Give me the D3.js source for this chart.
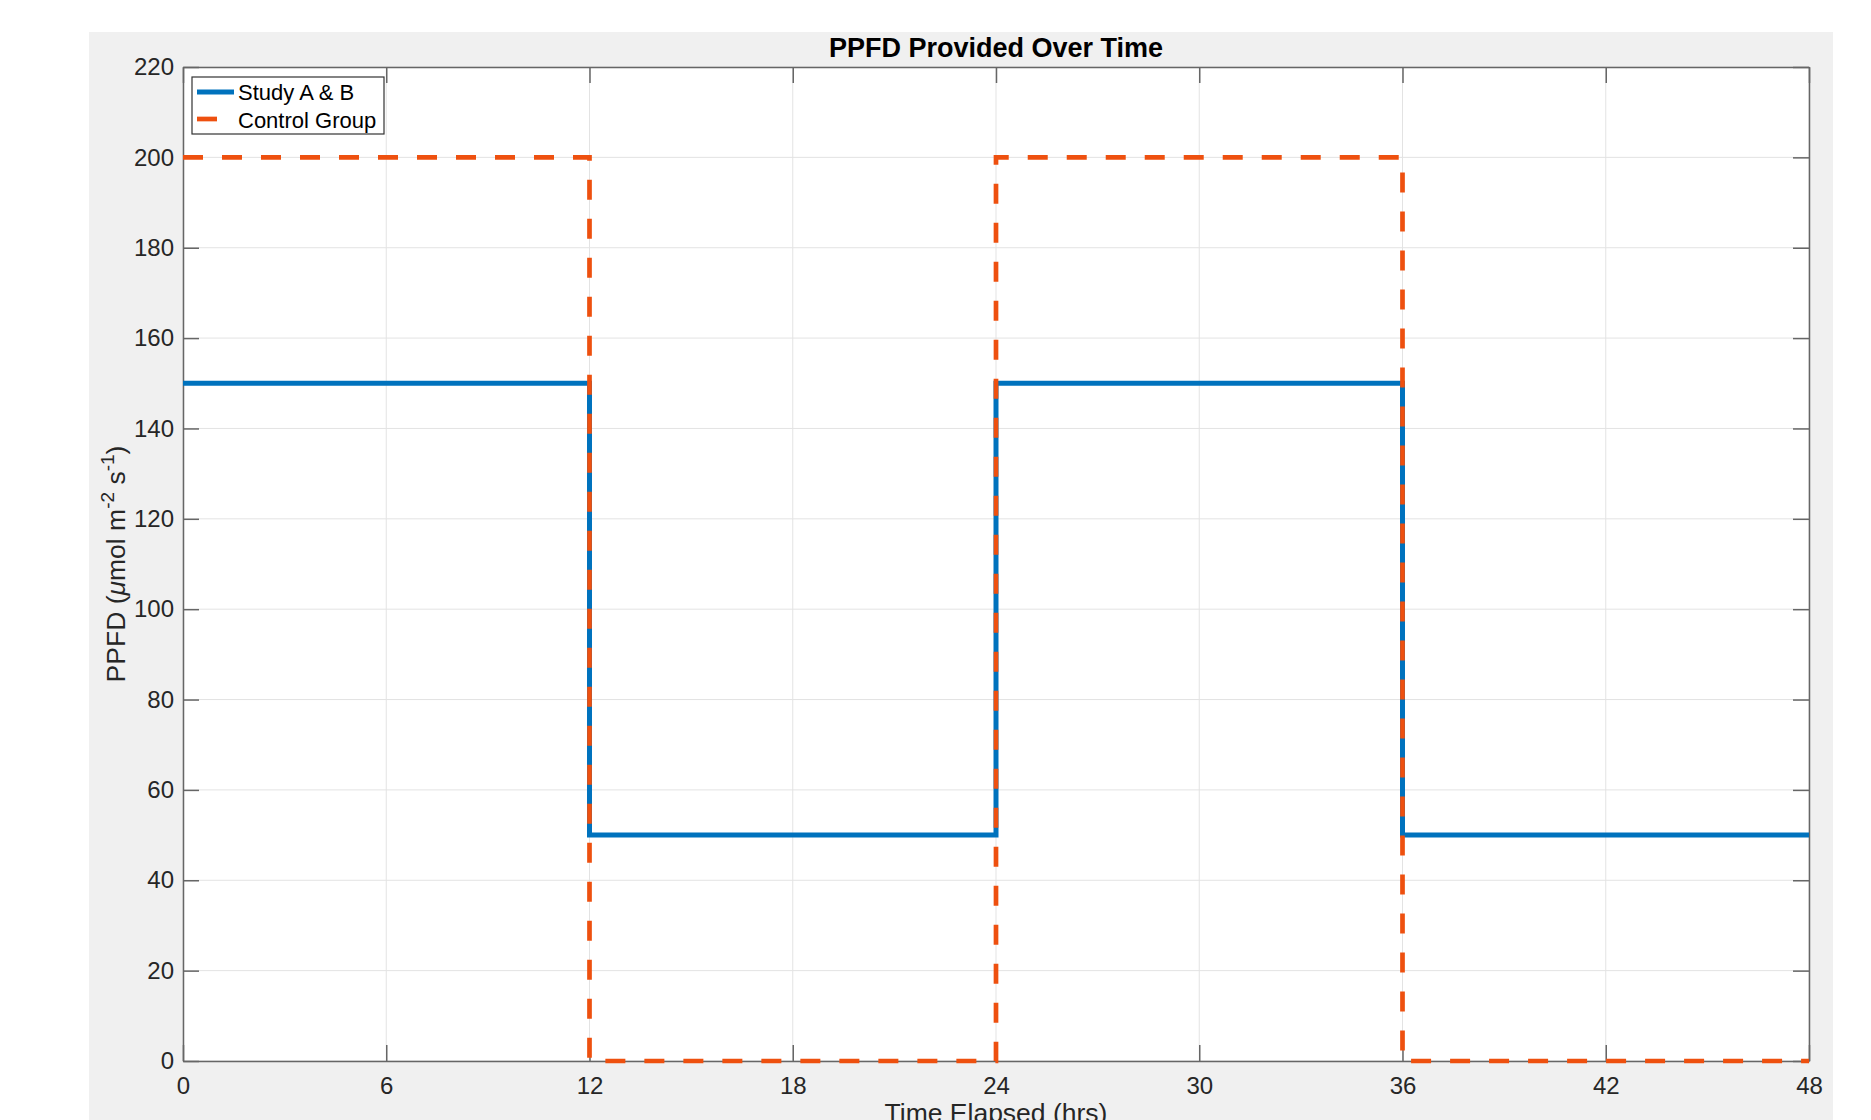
<!DOCTYPE html>
<html lang="en">
<head>
<meta charset="UTF-8">
<title>PPFD Provided Over Time</title>
<script src="https://d3js.org/d3.v7.min.js"></script>
<style>
  html, body { margin: 0; padding: 0; background: #fff; }
  svg { display: block; font-family: "Liberation Sans", Arial, Helvetica, sans-serif; }
  .tick text { fill: #262626; }
</style>
</head>
<body>
<svg id="chart"></svg>
<script>
// step data (value holds until next time point)
const hours = [0, 12, 24, 36, 48];
const studyAB = [150, 50, 150, 50, 50];
const controlGroup = [200, 0, 200, 0, 0];
const xTicks = [0, 6, 12, 18, 24, 30, 36, 42, 48];
const yTicks = [0, 20, 40, 60, 80, 100, 120, 140, 160, 180, 200, 220];

const W = 1871, H = 1120;
const plotL = 183, plotR = 1809, plotT = 67, plotB = 1061;

const svg = d3.select('#chart').attr('width', W).attr('height', H);

// figure background
svg.append('rect').attr('x', 89).attr('y', 32).attr('width', 1744).attr('height', H - 32)
    .attr('fill', '#f0f0f0');
svg.append('rect').attr('x', plotL).attr('y', plotT).attr('width', plotR - plotL).attr('height', plotB - plotT)
    .attr('fill', '#fff');

const x = d3.scaleLinear().domain([0, 48]).range([plotL, plotR]);
const y = d3.scaleLinear().domain([0, 220]).range([plotB, plotT]);

// grid
const grid = svg.append('g');
grid.selectAll('line.gx').data(xTicks).enter().append('line')
    .attr('x1', d => x(d)).attr('x2', d => x(d)).attr('y1', plotT).attr('y2', plotB)
    .attr('stroke', '#e3e3e3').attr('stroke-width', 1);
grid.selectAll('line.gy').data(yTicks).enter().append('line')
    .attr('x1', plotL).attr('x2', plotR).attr('y1', d => y(d)).attr('y2', d => y(d))
    .attr('stroke', '#e3e3e3').attr('stroke-width', 1);

// axes (ticks point inward, box on)
const axisColor = '#666';
function styleAxis(g, fontSize) {
    g.select('.domain').attr('stroke', axisColor).attr('stroke-width', 1.5);
    g.selectAll('.tick line').attr('stroke', axisColor).attr('stroke-width', 1.5);
    g.selectAll('.tick text').style('font-size', fontSize + 'px');
}
svg.append('g').attr('transform', `translate(0,${plotB})`)
    .call(d3.axisBottom(x).tickValues(xTicks).tickSizeInner(-16).tickSizeOuter(0).tickPadding(16))
    .call(g => styleAxis(g, 24));
svg.append('g').attr('transform', `translate(0,${plotT})`)
    .call(d3.axisTop(x).tickValues(xTicks).tickSizeInner(-16).tickSizeOuter(0).tickFormat(''))
    .call(g => styleAxis(g, 24));
svg.append('g').attr('transform', `translate(${plotL},0)`)
    .call(d3.axisLeft(y).tickValues(yTicks).tickSizeInner(-16).tickSizeOuter(0).tickPadding(9))
    .call(g => styleAxis(g, 24));
svg.append('g').attr('transform', `translate(${plotR},0)`)
    .call(d3.axisRight(y).tickValues(yTicks).tickSizeInner(-16).tickSizeOuter(0).tickFormat(''))
    .call(g => styleAxis(g, 24));

// data lines
const line = d3.line().x(d => x(d[0])).y(d => y(d[1])).curve(d3.curveStepAfter);
svg.append('path')
    .datum(hours.map((h, i) => [h, studyAB[i]]))
    .attr('d', line).attr('fill', 'none')
    .attr('stroke', '#0072BD').attr('stroke-width', 5);
svg.append('path')
    .datum(hours.map((h, i) => [h, controlGroup[i]]))
    .attr('d', line).attr('fill', 'none')
    .attr('stroke', '#EE500F').attr('stroke-width', 4.7)
    .attr('stroke-dasharray', '20,19');

// title and labels
svg.append('text').attr('x', (plotL + plotR) / 2).attr('y', 57)
    .attr('text-anchor', 'middle').attr('font-weight', 'bold')
    .style('font-size', '27px').attr('fill', '#000')
    .text('PPFD Provided Over Time');

svg.append('text').attr('x', (plotL + plotR) / 2).attr('y', 1122)
    .attr('text-anchor', 'middle').style('font-size', '26.5px').attr('fill', '#262626')
    .text('Time Elapsed (hrs)');

const yl = svg.append('text')
    .attr('transform', `translate(125,${(plotT + plotB) / 2}) rotate(-90)`)
    .attr('text-anchor', 'middle').style('font-size', '26.5px').attr('fill', '#262626');
yl.append('tspan').text('PPFD (');
yl.append('tspan').attr('font-style', 'italic').text('\u03bc');
yl.append('tspan').text('mol m');
yl.append('tspan').attr('dy', -11).style('font-size', '19px').text('-2');
yl.append('tspan').attr('dy', 11).text(' s');
yl.append('tspan').attr('dy', -11).style('font-size', '19px').text('-1');
yl.append('tspan').attr('dy', 11).text(')');

// legend
const legend = svg.append('g');
legend.append('rect').attr('x', 192).attr('y', 77).attr('width', 192).attr('height', 57)
    .attr('fill', '#fff').attr('stroke', '#333').attr('stroke-width', 1.2);
legend.append('line').attr('x1', 197).attr('x2', 234).attr('y1', 92).attr('y2', 92)
    .attr('stroke', '#0072BD').attr('stroke-width', 5);
legend.append('line').attr('x1', 197).attr('x2', 217).attr('y1', 119).attr('y2', 119)
    .attr('stroke', '#EE500F').attr('stroke-width', 4.7);
legend.append('text').attr('x', 238).attr('y', 100).style('font-size', '22px').attr('fill', '#000')
    .text('Study A & B');
legend.append('text').attr('x', 238).attr('y', 128).style('font-size', '22px').attr('fill', '#000')
    .text('Control Group');
</script>
</body>
</html>
